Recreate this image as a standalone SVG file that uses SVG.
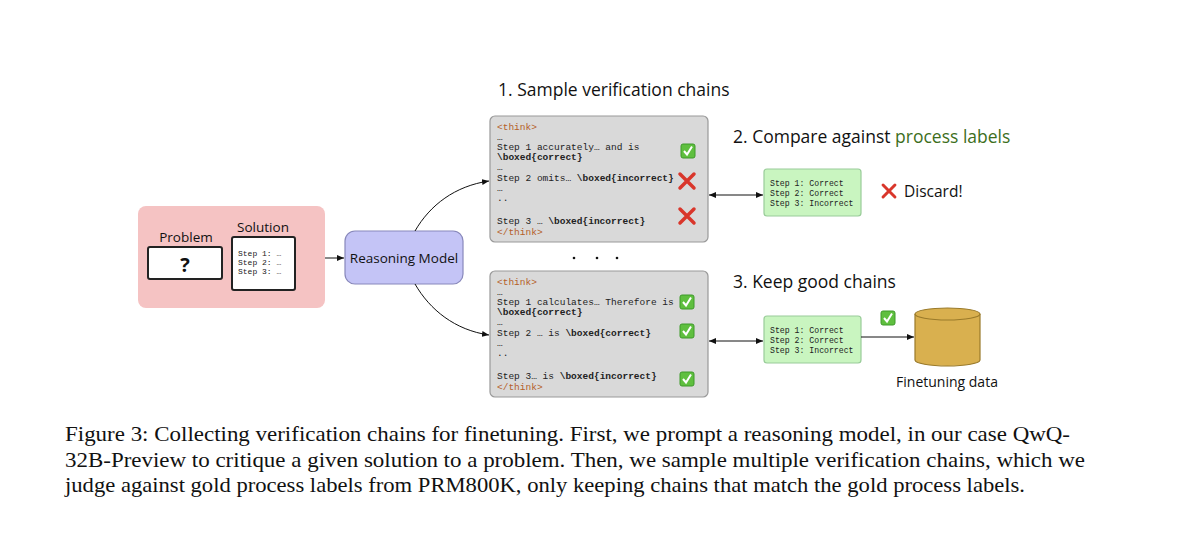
<svg xmlns="http://www.w3.org/2000/svg" width="1200" height="558" viewBox="0 0 1200 558">
<style>
.s{font-family:"Open Sans","DejaVu Sans",sans-serif;fill:#111}
.m{font-family:"Liberation Mono","DejaVu Sans Mono",monospace;font-size:9.5px;fill:#222}
.sm{font-size:8px}
.gm{font-size:8.2px}
.b{font-weight:bold}
.t{fill:#b5602a}
.gray{fill:#d9d9d9;stroke:#999;stroke-width:1.2}
.grn{fill:#c9f5c0;stroke:#9c9;stroke-width:1.2}
.ln{fill:none;stroke:#111;stroke-width:1}
.cap{font-family:"Liberation Serif",serif;font-size:21.5px;fill:#111}
</style>
<defs>
<marker id="ah" markerWidth="8" markerHeight="8" refX="7" refY="4" orient="auto-start-reverse" markerUnits="userSpaceOnUse"><path d="M0,1 L7,4 L0,7 z" fill="#111"/></marker>
<g id="ck"><rect x="-7" y="-7" width="14" height="14" rx="2" fill="#5fbf3f" stroke="#3e9a2a"/><path d="M-4,0 L-1,3.5 L4,-4.5" fill="none" stroke="#fff" stroke-width="2"/></g>
<g id="cx"><path d="M-7,-7 L7,7 M7,-7 L-7,7" stroke="#d9362b" stroke-width="3.5" stroke-linecap="round"/></g>
</defs>
<rect width="1200" height="558" fill="#fff"/>
<g id="input">
<rect x="138" y="206" width="187" height="102" rx="8" fill="#f5c3c3"/>
<text x="186" y="242" class="s" font-size="13.5" text-anchor="middle">Problem</text>
<rect x="148" y="247" width="74" height="32" rx="2" fill="#fff" stroke="#222" stroke-width="2"/>
<text x="185" y="272" class="s b" font-size="20" text-anchor="middle">?</text>
<text x="263" y="232" class="s" font-size="13.5" text-anchor="middle">Solution</text>
<rect x="232" y="237" width="63" height="53" rx="2" fill="#fff" stroke="#222" stroke-width="2"/>
<text x="238" y="256" class="m sm">Step 1: …</text>
<text x="238" y="265" class="m sm">Step 2: …</text>
<text x="238" y="274" class="m sm">Step 3: …</text>
</g>
<g id="model">
<rect x="345" y="231" width="118" height="53" rx="10" fill="#c4c4f6" stroke="#8888bb" stroke-width="1.2"/>
<text x="404" y="263" class="s" font-size="13.5" text-anchor="middle">Reasoning Model</text>
</g>
<g id="titles">
<text x="498" y="96" class="s" font-size="17.5">1. Sample verification chains</text>
<text x="733" y="143" class="s" font-size="17.5">2. Compare against <tspan fill="#3d6e1c">process labels</tspan></text>
<text x="733" y="288" class="s" font-size="17.5">3. Keep good chains</text>
</g>
<g id="chain1">
<rect class="gray" x="490" y="116" width="218" height="126" rx="5"/>
<text x="497" y="130" class="m t">&lt;think&gt;</text>
<text x="497" y="140" class="m">…</text>
<text x="497" y="150" class="m">Step 1 accurately… and is</text>
<text x="497" y="160" class="m b">\boxed{correct}</text>
<text x="497" y="170" class="m">…</text>
<text x="497" y="181" class="m">Step 2 omits… <tspan class="b">\boxed{incorrect}</tspan></text>
<text x="497" y="191" class="m">…</text>
<text x="497" y="201" class="m">..</text>
<text x="497" y="224" class="m">Step 3 … <tspan class="b">\boxed{incorrect}</tspan></text>
<text x="497" y="235" class="m t">&lt;/think&gt;</text>
<use href="#ck" x="688" y="151"/>
<use href="#cx" x="687" y="181"/>
<use href="#cx" x="687" y="216"/>
</g>
<g id="dots" fill="#111"><circle cx="574" cy="258" r="1.3"/><circle cx="597" cy="258" r="1.3"/><circle cx="617" cy="258" r="1.3"/></g>
<g id="chain2">
<rect class="gray" x="490" y="271" width="218" height="126" rx="5"/>
<text x="497" y="285" class="m t">&lt;think&gt;</text>
<text x="497" y="295" class="m">…</text>
<text x="497" y="305" class="m">Step 1 calculates… Therefore is</text>
<text x="497" y="315" class="m b">\boxed{correct}</text>
<text x="497" y="325" class="m">…</text>
<text x="497" y="336" class="m">Step 2 … is <tspan class="b">\boxed{correct}</tspan></text>
<text x="497" y="346" class="m">…</text>
<text x="497" y="356" class="m">..</text>
<text x="497" y="379" class="m">Step 3… is <tspan class="b">\boxed{incorrect}</tspan></text>
<text x="497" y="390" class="m t">&lt;/think&gt;</text>
<use href="#ck" x="687" y="302"/>
<use href="#ck" x="687" y="331"/>
<use href="#ck" x="687" y="379"/>
</g>
<g id="labels1">
<rect class="grn" x="764" y="169" width="97" height="47" rx="3"/>
<text x="770" y="186" class="m gm">Step 1: Correct</text>
<text x="770" y="196" class="m gm">Step 2: Correct</text>
<text x="770" y="206" class="m gm">Step 3: Incorrect</text>
<use href="#cx" x="889" y="191" transform="translate(889 191) scale(0.85) translate(-889 -191)"/>
<text x="904" y="197" class="s" font-size="15.5">Discard!</text>
</g>
<g id="labels2">
<rect class="grn" x="764" y="316" width="97" height="47" rx="3"/>
<text x="770" y="333" class="m gm">Step 1: Correct</text>
<text x="770" y="343" class="m gm">Step 2: Correct</text>
<text x="770" y="353" class="m gm">Step 3: Incorrect</text>
<use href="#ck" x="888" y="318"/>
</g>
<g id="data">
<path d="M915,314 L915,360 A32.5,6 0 0 0 980,360 L980,314" fill="#d9b04f" stroke="#9a7a2a" stroke-width="1.2"/>
<ellipse cx="947.5" cy="314" rx="32.5" ry="6" fill="#d9b04f" stroke="#9a7a2a" stroke-width="1.2"/>
<text x="947" y="387" class="s" font-size="14" text-anchor="middle">Finetuning data</text>
</g>
<g id="connectors">
<line class="ln" x1="325" y1="258" x2="344" y2="258" marker-end="url(#ah)"/>
<path class="ln" d="M415,231 C430,205 455,186 489,181" marker-end="url(#ah)"/>
<path class="ln" d="M415,284 C430,310 455,330 489,335" marker-end="url(#ah)"/>
<line class="ln" x1="709" y1="195" x2="763" y2="195" marker-start="url(#ah)" marker-end="url(#ah)"/>
<line class="ln" x1="709" y1="341" x2="763" y2="341" marker-start="url(#ah)" marker-end="url(#ah)"/>
<line class="ln" x1="861" y1="337" x2="914" y2="337" marker-end="url(#ah)"/>
</g>
<g id="caption">
<text x="65" y="441" class="cap" textLength="1005" lengthAdjust="spacingAndGlyphs">Figure 3: Collecting verification chains for finetuning. First, we prompt a reasoning model, in our case QwQ-</text>
<text x="65" y="467" class="cap" textLength="1020" lengthAdjust="spacingAndGlyphs">32B-Preview to critique a given solution to a problem. Then, we sample multiple verification chains, which we</text>
<text x="65" y="492" class="cap" textLength="960" lengthAdjust="spacingAndGlyphs">judge against gold process labels from PRM800K, only keeping chains that match the gold process labels.</text>
</g>
</svg>
